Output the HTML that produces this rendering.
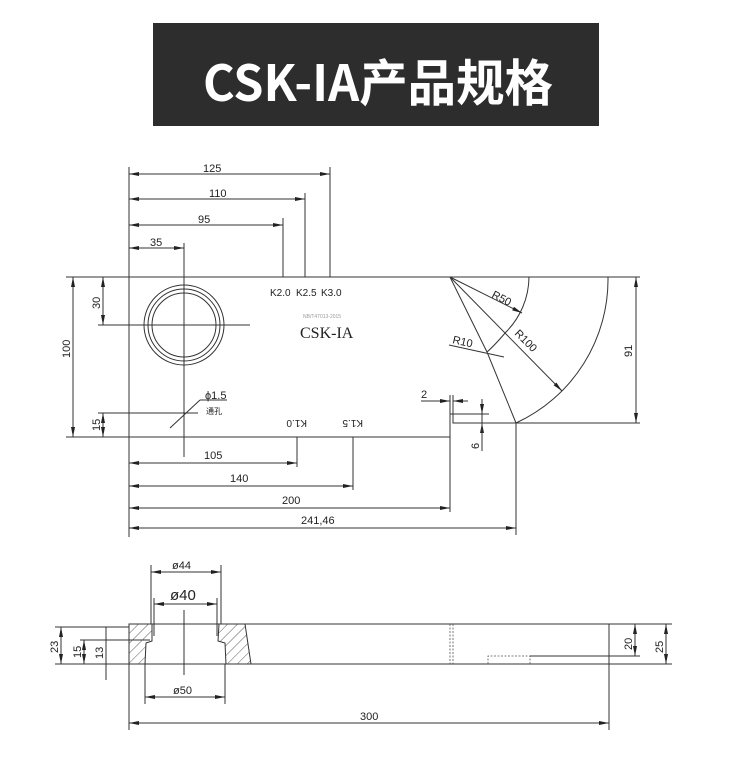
<!DOCTYPE html>
<html><head><meta charset="utf-8"><style>
html,body{margin:0;padding:0;background:#fff;}
svg{display:block;}
text{font-family:"Liberation Sans","DejaVu Sans",sans-serif;fill:#222;}
</style></head><body>
<svg width="750" height="779" viewBox="0 0 750 779" xmlns="http://www.w3.org/2000/svg">
<defs>
<marker id="a" viewBox="0 0 10 4" refX="10" refY="2" markerWidth="10" markerHeight="4" markerUnits="userSpaceOnUse" orient="auto-start-reverse"><path d="M0,0 L10,2 L0,4 z" fill="#222"/></marker>
<pattern id="h" width="7" height="7" patternUnits="userSpaceOnUse" patternTransform="rotate(45)"><line x1="0" y1="0" x2="0" y2="7" stroke="#333" stroke-width="0.8"/></pattern>
</defs>
<rect x="153" y="23" width="446" height="103" fill="#2d2d2d"/>
<text x="203" y="101" font-size="50" font-weight="bold" textLength="350" lengthAdjust="spacingAndGlyphs" style="font-family:'Noto Sans CJK SC','Liberation Sans',sans-serif;fill:#fff">CSK-IA产品规格</text>

<g stroke="#333" stroke-width="1" fill="none">
<polyline points="66,277 640,277"/>
<polyline points="129,167 129,537"/>
<polyline points="66,437 450,437 450,414 453,414 453,423 640,423"/>
<path d="M608,277 A158,158 0 0 1 516,423"/>
<path d="M529,277 A79,79 0 0 1 506,332 Q494,346 487,352 L516,423" />
<line x1="450" y1="277" x2="487" y2="352"/>
<line x1="450" y1="277" x2="522" y2="313" marker-end="url(#a)"/>
<line x1="450" y1="277" x2="562" y2="391" marker-end="url(#a)"/>
<line x1="449" y1="345" x2="504" y2="357"/>
<circle cx="184" cy="325" r="40"/><circle cx="184" cy="325" r="36"/><circle cx="184" cy="325" r="32"/>
<line x1="98" y1="325" x2="250" y2="325"/>
<line x1="184" y1="243" x2="184" y2="457"/>
<line x1="129" y1="174" x2="330" y2="174" marker-start="url(#a)" marker-end="url(#a)"/>
<line x1="129" y1="199" x2="305" y2="199" marker-start="url(#a)" marker-end="url(#a)"/>
<line x1="129" y1="225" x2="283" y2="225" marker-start="url(#a)" marker-end="url(#a)"/>
<line x1="129" y1="248" x2="184" y2="248" marker-start="url(#a)" marker-end="url(#a)"/>
<line x1="330" y1="167" x2="330" y2="277"/>
<line x1="305" y1="193" x2="305" y2="277"/>
<line x1="283" y1="218" x2="283" y2="277"/>
<line x1="73" y1="277" x2="73" y2="437" marker-start="url(#a)" marker-end="url(#a)"/>
<line x1="103" y1="277" x2="103" y2="325" marker-start="url(#a)" marker-end="url(#a)"/>
<line x1="103" y1="413" x2="103" y2="437" marker-start="url(#a)" marker-end="url(#a)"/>
<line x1="98" y1="413" x2="198" y2="413"/>
<line x1="170" y1="428" x2="200" y2="400"/>
<line x1="200" y1="400" x2="227" y2="400"/>
<line x1="297" y1="437" x2="297" y2="467"/>
<line x1="353" y1="437" x2="353" y2="490"/>
<line x1="450" y1="437" x2="450" y2="512"/>
<line x1="516" y1="423" x2="516" y2="535"/>
<line x1="129" y1="463" x2="297" y2="463" marker-start="url(#a)" marker-end="url(#a)"/>
<line x1="129" y1="486" x2="353" y2="486" marker-start="url(#a)" marker-end="url(#a)"/>
<line x1="129" y1="508" x2="450" y2="508" marker-start="url(#a)" marker-end="url(#a)"/>
<line x1="129" y1="528" x2="516" y2="528" marker-start="url(#a)" marker-end="url(#a)"/>
<line x1="636" y1="277" x2="636" y2="423" marker-start="url(#a)" marker-end="url(#a)"/>
<line x1="450" y1="395" x2="450" y2="414"/>
<line x1="453" y1="395" x2="453" y2="414"/>
<line x1="421" y1="401" x2="450" y2="401" marker-end="url(#a)"/>
<line x1="468" y1="401" x2="453" y2="401" marker-end="url(#a)"/>
<line x1="453" y1="414" x2="489" y2="414"/>
<line x1="482" y1="399" x2="482" y2="414" marker-end="url(#a)"/>
<line x1="482" y1="438" x2="482" y2="423" marker-end="url(#a)"/>
<line x1="482" y1="414" x2="482" y2="451"/>

<line x1="129" y1="624" x2="672" y2="624"/>
<line x1="129" y1="664" x2="672" y2="664"/>
<line x1="129" y1="624" x2="129" y2="730"/>
<line x1="609" y1="624" x2="609" y2="730"/>
<polygon points="129,624 152,624 152,641 146,643 145,664 129,664" fill="url(#h)"/>
<polygon points="219,624 245,624 251,664 226,664 225,643 218,641" fill="url(#h)"/>
<line x1="184" y1="610" x2="184" y2="675"/>
<line x1="151" y1="565" x2="151" y2="624"/><line x1="221" y1="565" x2="221" y2="624"/>
<line x1="154" y1="598" x2="154" y2="636"/><line x1="217" y1="598" x2="217" y2="636"/>
<line x1="145" y1="664" x2="145" y2="704"/><line x1="225" y1="664" x2="225" y2="704"/>
<line x1="151" y1="572" x2="221" y2="572" marker-start="url(#a)" marker-end="url(#a)"/>
<line x1="154" y1="604" x2="217" y2="604" marker-start="url(#a)" marker-end="url(#a)"/>
<line x1="145" y1="697" x2="225" y2="697" marker-start="url(#a)" marker-end="url(#a)"/>
<line x1="129" y1="723" x2="609" y2="723" marker-start="url(#a)" marker-end="url(#a)"/>
<line x1="55" y1="627" x2="129" y2="627"/>
<line x1="80" y1="640" x2="150" y2="640"/>
<line x1="55" y1="664" x2="129" y2="664"/>
<line x1="61" y1="627" x2="61" y2="664" marker-start="url(#a)" marker-end="url(#a)"/>
<line x1="84" y1="640" x2="84" y2="664" marker-start="url(#a)" marker-end="url(#a)"/>
<line x1="106" y1="627" x2="106" y2="680" />
<line x1="530" y1="656" x2="640" y2="656"/>
<line x1="635" y1="624" x2="635" y2="656" marker-start="url(#a)" marker-end="url(#a)"/>
<line x1="666" y1="624" x2="666" y2="664" marker-start="url(#a)" marker-end="url(#a)"/>
</g>
<g stroke="#555" stroke-width="0.8" fill="none" stroke-dasharray="2,1.5">
<line x1="450" y1="624" x2="450" y2="664"/><line x1="453" y1="624" x2="453" y2="664"/>
<polyline points="488,664 488,656 530,656 530,664"/>
</g>

<g font-size="11">
<text x="203" y="172">125</text>
<text x="209" y="197">110</text>
<text x="198" y="223">95</text>
<text x="150" y="246">35</text>
<text x="270" y="296" font-size="10">K2.0</text>
<text x="296" y="296" font-size="10">K2.5</text>
<text x="321" y="296" font-size="10">K3.0</text>
<text x="303" y="318" font-size="5" style="fill:#999">NB/T47013-2015</text>
<text x="300" y="338" font-size="16" style="font-family:'Liberation Serif',serif">CSK-IA</text>
<text x="205" y="399">ϕ1.5</text>
<text x="206" y="414" font-size="8" style="font-family:'Liberation Sans','Noto Sans CJK SC',sans-serif">通孔</text>
<text x="204" y="459">105</text>
<text x="230" y="482">140</text>
<text x="282" y="504">200</text>
<text x="301" y="524">241,46</text>
<text x="421" y="398">2</text>
<text transform="translate(307,420) rotate(180)" font-size="10">K1.0</text>
<text transform="translate(363,420) rotate(180)" font-size="10">K1.5</text>
<text transform="translate(70,358) rotate(-90)">100</text>
<text transform="translate(100,309) rotate(-90)">30</text>
<text transform="translate(100,431) rotate(-90)">15</text>
<text transform="translate(632,357) rotate(-90)">91</text>
<text transform="translate(479,449) rotate(-90)">6</text>
<text transform="translate(491,297) rotate(27)">R50</text>
<text transform="translate(514,334) rotate(45)">R100</text>
<text transform="translate(452,343) rotate(13)">R10</text>
<text x="172" y="569">ø44</text>
<text x="170" y="600" font-size="15">ø40</text>
<text x="173" y="694">ø50</text>
<text x="360" y="720">300</text>
<text transform="translate(58,653) rotate(-90)">23</text>
<text transform="translate(81,658) rotate(-90)">15</text>
<text transform="translate(103,659) rotate(-90)">13</text>
<text transform="translate(632,650) rotate(-90)">20</text>
<text transform="translate(663,653) rotate(-90)">25</text>
</g>
</svg>
</body></html>
